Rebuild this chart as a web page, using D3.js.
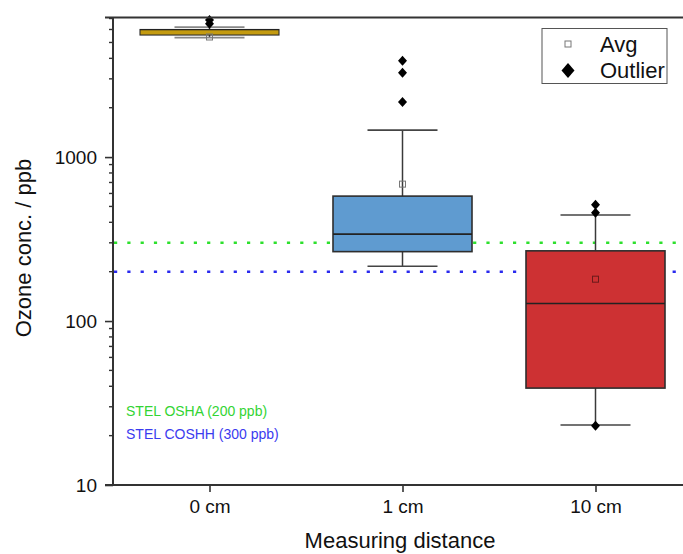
<!DOCTYPE html>
<html>
<head>
<meta charset="utf-8">
<script src="https://cdn.jsdelivr.net/npm/d3@7"></script>
<style>
  html, body { margin: 0; padding: 0; background: #fff; }
  svg { display: block; }
  text { font-family: "Liberation Sans", Arial, sans-serif; }
</style>
</head>
<body>
<svg id="chart" width="683" height="554"></svg>
<script>
// ---- data ----
const categories = ["0 cm", "1 cm", "10 cm"];
const whiskerLow  = [5350, 216, 23.2];
const q1          = [5550, 265, 39];
const median      = [5990, 339, 128];
const q3          = [6000, 578, 268];
const whiskerHigh = [6200, 1461, 443];
const means       = [5400, 684, 180];
const outliers    = [[6500, 6850], [2165, 3266, 3866], [23, 457, 512]];
const boxColors   = ["#c49b10", "#5f9bd0", "#cd3133"];
const meanColors  = ["#777", "#777", "#6a1a1a"];

const yTickValues = [10, 100, 1000];
const limitValues = [300, 200];
const limitColors = ["#2de02d", "#2a2aee"];
const limitLabels = ["STEL OSHA (200 ppb)", "STEL COSHH (300 ppb)"];
const limitLabelColors = ["#33d433", "#3b3bef"];
const legendLabels = ["Avg", "Outlier"];

(function () {
// ---- layout ----
const pL = 113, pR = 690, pT = 17.5, pB = 485;
const svg = d3.select("#chart");

const y = d3.scaleLog().domain([10, 7100]).range([pB, pT]);
const x = d3.scalePoint().domain(categories).range([pL, pR + 2]).padding(0.5);

const boxW = 139, capW = 70;
const axisColor = "#333";

// limit lines (dotted)
svg.selectAll("line.limit").data(limitValues).join("line")
  .attr("class", "limit")
  .attr("x1", pL + 1).attr("x2", pR)
  .attr("y1", d => y(d)).attr("y2", d => y(d))
  .attr("stroke", (d, i) => limitColors[i])
  .attr("stroke-width", 2.6)
  .attr("stroke-dasharray", "3.2 10.1");

// boxes
const g = svg.selectAll("g.box").data(categories).join("g").attr("class", "box");

g.append("line") // whisker vertical
  .attr("x1", d => x(d)).attr("x2", d => x(d))
  .attr("y1", (d, i) => y(whiskerHigh[i])).attr("y2", (d, i) => y(whiskerLow[i]))
  .attr("stroke", "#3a3a3a").attr("stroke-width", 1.5);

g.append("line") // top cap
  .attr("x1", d => x(d) - capW / 2).attr("x2", d => x(d) + capW / 2)
  .attr("y1", (d, i) => y(whiskerHigh[i])).attr("y2", (d, i) => y(whiskerHigh[i]))
  .attr("stroke", (d, i) => i === 0 ? "#888" : "#444").attr("stroke-width", 1.6);

g.append("line") // bottom cap
  .attr("x1", d => x(d) - capW / 2).attr("x2", d => x(d) + capW / 2)
  .attr("y1", (d, i) => y(whiskerLow[i])).attr("y2", (d, i) => y(whiskerLow[i]))
  .attr("stroke", (d, i) => i === 0 ? "#888" : "#444").attr("stroke-width", 1.6);

g.append("rect")
  .attr("x", d => x(d) - boxW / 2)
  .attr("width", boxW)
  .attr("y", (d, i) => y(q3[i]))
  .attr("height", (d, i) => y(q1[i]) - y(q3[i]))
  .attr("fill", (d, i) => boxColors[i])
  .attr("stroke", "#2e2e2e").attr("stroke-width", (d, i) => i === 0 ? 1.1 : 1.6);

g.append("line") // median
  .attr("x1", d => x(d) - boxW / 2).attr("x2", d => x(d) + boxW / 2)
  .attr("y1", (d, i) => y(median[i])).attr("y2", (d, i) => y(median[i]))
  .attr("stroke", "#222").attr("stroke-width", (d, i) => i === 0 ? 1.1 : 1.6);

// mean squares
const sq = 6;
g.append("rect")
  .attr("x", d => x(d) - sq / 2)
  .attr("y", (d, i) => y(means[i]) - sq / 2)
  .attr("width", sq).attr("height", sq)
  .attr("fill", "none").attr("stroke", (d, i) => meanColors[i]).attr("stroke-width", 1);

// outliers
function diamond(cx, cy, w, h) {
  return `M${cx},${cy - h / 2}L${cx + w / 2},${cy}L${cx},${cy + h / 2}L${cx - w / 2},${cy}Z`;
}
const outPts = [];
categories.forEach((c, i) => outliers[i].forEach(v => outPts.push({ c, v })));
svg.selectAll("path.outlier").data(outPts).join("path")
  .attr("class", "outlier")
  .attr("d", d => diamond(x(d.c), y(d.v), 9, 10))
  .attr("fill", "#000");

// ---- axes ----
const minorTicks = [];
for (let e = 1; e <= 3; e++) for (let k = 2; k <= 9; k++) {
  const v = k * Math.pow(10, e);
  if (v <= 7100) minorTicks.push(v);
}
const leftAxis = d3.axisLeft(y).tickValues(yTickValues).tickFormat(d3.format("d")).tickSize(8).tickPadding(8);
const gl = svg.append("g").attr("transform", `translate(${pL},0)`).call(leftAxis);
gl.select(".domain").remove();
gl.selectAll(".tick line").attr("stroke", axisColor).attr("stroke-width", 1.6);
gl.selectAll(".tick text").attr("font-size", 19).attr("fill", "#111")
  .attr("font-family", "'Liberation Sans', Arial, sans-serif");
gl.selectAll("line.minor").data(minorTicks).join("line")
  .attr("class", "minor")
  .attr("x1", -4).attr("x2", 0)
  .attr("y1", d => y(d)).attr("y2", d => y(d))
  .attr("stroke", axisColor).attr("stroke-width", 1.4);

// right axis (inward ticks)
const gr = svg.append("g").attr("transform", `translate(${pR},0)`);
gr.selectAll("line.major").data(yTickValues).join("line")
  .attr("x1", -7).attr("x2", 0)
  .attr("y1", d => y(d)).attr("y2", d => y(d))
  .attr("stroke", axisColor).attr("stroke-width", 1.6);

// bottom axis
const bottomAxis = d3.axisBottom(x).tickSize(7).tickPadding(8);
const gb = svg.append("g").attr("transform", `translate(0,${pB})`).call(bottomAxis);
gb.select(".domain").remove();
gb.selectAll(".tick line").attr("stroke", axisColor).attr("stroke-width", 1.6);
gb.selectAll(".tick text").attr("font-size", 19).attr("fill", "#111")
  .attr("font-family", "'Liberation Sans', Arial, sans-serif");

// frame lines
svg.append("line").attr("x1", pL - 8).attr("x2", pR).attr("y1", pB).attr("y2", pB)
  .attr("stroke", axisColor).attr("stroke-width", 2);
svg.append("line").attr("x1", pL - 8).attr("x2", pR).attr("y1", pT).attr("y2", pT)
  .attr("stroke", axisColor).attr("stroke-width", 2);
svg.append("line").attr("x1", pL).attr("x2", pL).attr("y1", pT).attr("y2", pB)
  .attr("stroke", axisColor).attr("stroke-width", 2);
svg.append("line").attr("x1", pR).attr("x2", pR).attr("y1", pT).attr("y2", pB)
  .attr("stroke", axisColor).attr("stroke-width", 2);

// axis titles
svg.append("text").attr("x", 400).attr("y", 548).attr("text-anchor", "middle")
  .attr("font-size", 22).attr("fill", "#111").text("Measuring distance");
svg.append("text").attr("transform", "translate(31,248) rotate(-90)").attr("text-anchor", "middle")
  .attr("font-size", 22).attr("fill", "#111").text("Ozone conc. / ppb");

// limit labels
svg.selectAll("text.limitlab").data(limitLabels).join("text")
  .attr("class", "limitlab")
  .attr("x", 126).attr("y", (d, i) => 416 + i * 23)
  .attr("font-size", 14).attr("fill", (d, i) => limitLabelColors[i]).text(d => d);

// legend
const lg = svg.append("g");
lg.append("rect").attr("x", 542).attr("y", 28.5).attr("width", 125).attr("height", 55)
  .attr("fill", "#fff").attr("stroke", "#555").attr("stroke-width", 1);
lg.append("rect").attr("x", 565).attr("y", 41).attr("width", 6).attr("height", 6)
  .attr("fill", "none").attr("stroke", "#777").attr("stroke-width", 1);
lg.append("path").attr("d", diamond(568, 70.5, 13, 15)).attr("fill", "#000");
lg.selectAll("text.leg").data(legendLabels).join("text")
  .attr("class", "leg")
  .attr("x", 600).attr("y", (d, i) => 52 + i * 26)
  .attr("font-size", 22).attr("fill", "#111").text(d => d);
})();
</script>
</body>
</html>
